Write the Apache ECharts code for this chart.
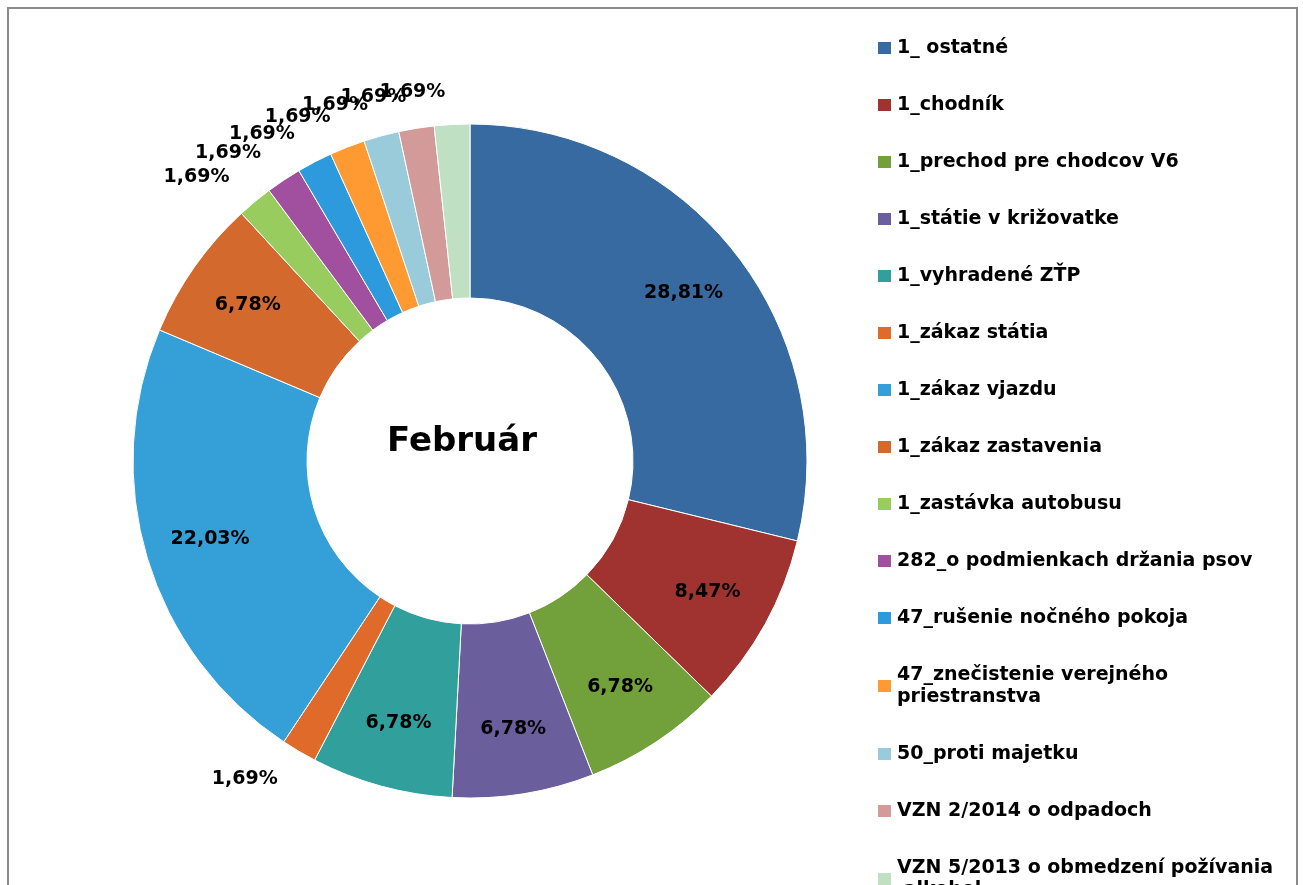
<!DOCTYPE html>
<html>
<head>
<meta charset="utf-8">
<script src="https://cdn.jsdelivr.net/npm/echarts@6/dist/echarts.min.js"></script>
<style>
  html, body { margin: 0; padding: 0; background: #fff; }
  #chart { width: 1303px; height: 885px; }
</style>
</head>
<body>
<div id="chart"></div>
<script>
// kategórie a počty priestupkov (február)
const categories = [
  "1_ ostatné",
  "1_chodník",
  "1_prechod pre chodcov V6",
  "1_státie v križovatke",
  "1_vyhradené ZŤP",
  "1_zákaz státia",
  "1_zákaz vjazdu",
  "1_zákaz zastavenia",
  "1_zastávka autobusu",
  "282_o podmienkach držania psov",
  "47_rušenie nočného pokoja",
  "47_znečistenie verejného priestranstva",
  "50_proti majetku",
  "VZN 2/2014 o odpadoch",
  "VZN 5/2013 o obmedzení požívania alkohol"
];
const counts = [17, 5, 4, 4, 4, 1, 13, 4, 1, 1, 1, 1, 1, 1, 1];
const colors = [
  "#376aa0", "#a0332f", "#72a03a", "#6a5e9c", "#31a09c",
  "#e06a2a", "#35a0d8", "#d4692e", "#99cc5e", "#a0509f",
  "#2c9adc", "#ff9a33", "#9acbda", "#d39a9a", "#bfe0c3"
];
const monthTitle = "Február";

const total = counts.reduce((a, b) => a + b, 0);
const fontFamily = '"DejaVu Sans", Verdana, sans-serif';
const pct = (p) => (p.value / total * 100).toFixed(2).replace(".", ",") + "%";

// prstenec: popisy len pri malých výsekoch (mimo prstenca)
const ringData = categories.map((name, i) => ({
  name: name,
  value: counts[i],
  label: { show: counts[i] < 2 }
}));
// priehľadná vrstva len pre popisy veľkých výsekov (trochu ďalej od stredu)
const labelData = categories.map((name, i) => ({
  name: name,
  value: counts[i],
  label: { show: counts[i] >= 2 }
}));

const labelText = {
  color: "#000",
  fontFamily: fontFamily,
  fontWeight: "bold",
  fontSize: 19,
  formatter: pct
};

const option = {
  color: colors,
  animation: false,
  title: {
    text: monthTitle,
    left: 457,
    top: 420,
    textAlign: "center",
    textStyle: {
      fontFamily: fontFamily,
      fontWeight: "bold",
      fontSize: 34,
      color: "#000"
    }
  },
  legend: {
    orient: "vertical",
    left: 871,
    top: 32,
    height: 1000,
    data: categories,
    itemWidth: 15,
    itemHeight: 14,
    itemGap: 35,
    icon: "rect",
    textStyle: {
      fontFamily: fontFamily,
      fontWeight: "bold",
      fontSize: 19,
      color: "#000",
      width: 415,
      overflow: "break",
      lineHeight: 22
    }
  },
  graphic: [
    {
      type: "rect",
      shape: { x: 8, y: 8, width: 1289, height: 900 },
      style: { fill: "none", stroke: "#8a8a8a", lineWidth: 2 },
      silent: true
    }
  ],
  series: [
    {
      name: monthTitle,
      type: "pie",
      center: [470, 461],
      radius: [163, 337],
      startAngle: 90,
      clockwise: true,
      avoidLabelOverlap: false,
      itemStyle: { borderColor: "#fff", borderWidth: 1 },
      label: Object.assign({ position: "outside" }, labelText),
      labelLine: { show: false, length: 32, length2: 0 },
      labelLayout: { hideOverlap: false },
      emphasis: { disabled: true },
      data: ringData
    },
    {
      name: monthTitle + " popisy",
      type: "pie",
      center: [470, 461],
      radius: [200, 337],
      startAngle: 90,
      clockwise: true,
      silent: true,
      avoidLabelOverlap: false,
      itemStyle: { color: "rgba(0,0,0,0)" },
      label: Object.assign({ position: "inside" }, labelText),
      labelLine: { show: false },
      emphasis: { disabled: true },
      data: labelData
    }
  ]
};

echarts.init(document.getElementById("chart")).setOption(option);
</script>
</body>
</html>
